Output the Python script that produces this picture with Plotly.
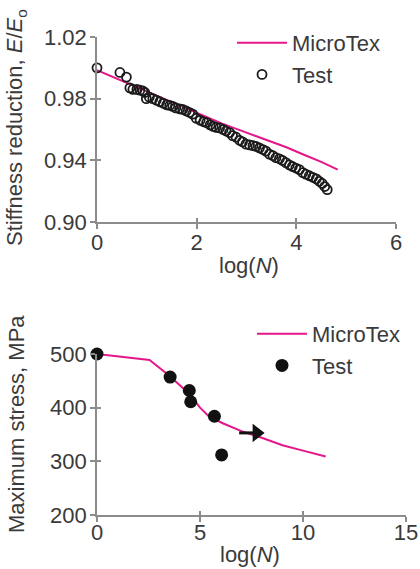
import plotly.graph_objects as go

# ---------------- data: top panel (stiffness) ----------------
mt_logN_top = [0, 0.5, 1.0, 1.5, 2.0, 2.5, 3.0, 3.4, 3.8, 4.2, 4.5, 4.83]
mt_stiff = [0.9985, 0.9915, 0.985, 0.9775, 0.971, 0.964, 0.958, 0.9535, 0.9485, 0.943, 0.939, 0.934]

test_logN_top = [0, 0.46, 0.59, 0.66, 0.72, 0.80, 0.86, 0.92, 0.96, 0.99, 1.05, 1.12, 1.19,
                 1.26, 1.33, 1.40, 1.46, 1.52, 1.58, 1.66, 1.72, 1.79, 1.86, 1.92, 1.99,
                 2.07, 2.14, 2.20, 2.27, 2.33, 2.39, 2.46, 2.53, 2.59, 2.66, 2.72, 2.79,
                 2.86, 2.92, 2.99, 3.06, 3.13, 3.19, 3.26, 3.33, 3.39, 3.46, 3.53, 3.59,
                 3.66, 3.72, 3.79, 3.86, 3.92, 3.99, 4.06, 4.13, 4.19, 4.26, 4.33, 4.40,
                 4.46, 4.52, 4.57, 4.62]
test_stiff = [1.000, 0.997, 0.994, 0.987, 0.986, 0.986, 0.9855, 0.985, 0.984, 0.980, 0.981,
              0.980, 0.979, 0.978, 0.977, 0.976, 0.9756, 0.975, 0.974, 0.9734, 0.973, 0.972,
              0.971, 0.970, 0.9673, 0.966, 0.965, 0.9645, 0.963, 0.962, 0.9614, 0.961, 0.960,
              0.959, 0.958, 0.956, 0.955, 0.953, 0.952, 0.9505, 0.950, 0.9495, 0.949, 0.948,
              0.947, 0.946, 0.944, 0.943, 0.9417, 0.941, 0.940, 0.9385, 0.937, 0.936, 0.935,
              0.934, 0.932, 0.931, 0.930, 0.929, 0.928, 0.9264, 0.925, 0.923, 0.921]

# ---------------- data: bottom panel (max stress) ----------------
mt_logN_bot = [0, 2.55, 3.5, 4.5, 5.0, 5.4, 6.1, 7.1, 8.0, 9.0, 10.0, 11.1]
mt_stress = [500, 489, 460, 425, 400, 385, 371, 355, 344, 330, 320, 309]

test_logN_bot = [0, 3.55, 4.48, 4.55, 5.7, 6.05]
test_stress = [500, 457, 432, 411, 384, 312]

runout_logN = [6.9, 7.75]
runout_stress = [353, 353]

top_yticks = [0.90, 0.94, 0.98, 1.02]
top_yticklabels = ["0.90", "0.94", "0.98", "1.02"]
top_xticks = [0, 2, 4, 6]
bot_yticks = [200, 300, 400, 500]
bot_xticks = [0, 5, 10, 15]

PINK = "#e5168a"
AXC = "#8c8c8c"
TXT = "#3a3a3a"
FONT = "Liberation Sans, Arial, sans-serif"
FS = 22

W, H = 420, 569
def px(x):
    return x / W
def py(y):
    return 1 - y / H

top_xd = [px(97), px(396)]
top_yd = [py(222), py(37)]
bot_xd = [px(97), px(406)]
bot_yd = [py(515), py(354)]

fig = go.Figure()

# top panel
fig.add_trace(go.Scatter(x=mt_logN_top, y=mt_stiff, mode="lines", name="MicroTex",
                         line=dict(color=PINK, width=2), xaxis="x", yaxis="y",
                         legend="legend", cliponaxis=False))
fig.add_trace(go.Scatter(x=test_logN_top, y=test_stiff, mode="markers", name="Test",
                         marker=dict(symbol="circle-open", size=9, color="#1a1a1a",
                                     line=dict(width=1.8, color="#1a1a1a")),
                         xaxis="x", yaxis="y", legend="legend", cliponaxis=False))
# invisible helper for inner tick axes (top)
fig.add_trace(go.Scatter(x=mt_logN_top, y=mt_stiff, mode="lines", opacity=0,
                         showlegend=False, hoverinfo="skip", xaxis="x3", yaxis="y3"))

# bottom panel
fig.add_trace(go.Scatter(x=mt_logN_bot, y=mt_stress, mode="lines", name="MicroTex",
                         line=dict(color=PINK, width=2), xaxis="x2", yaxis="y2",
                         legend="legend2", cliponaxis=False))
fig.add_trace(go.Scatter(x=test_logN_bot, y=test_stress, mode="markers", name="Test",
                         marker=dict(symbol="circle", size=13, color="#111111"),
                         xaxis="x2", yaxis="y2", legend="legend2", cliponaxis=False))
# run-out arrow: shaft + head
fig.add_trace(go.Scatter(x=runout_logN, y=runout_stress, mode="lines",
                         showlegend=False, line=dict(color="#111111", width=3),
                         xaxis="x2", yaxis="y2", cliponaxis=False))
fig.add_trace(go.Scatter(x=runout_logN[-1:], y=runout_stress[-1:], mode="markers",
                         showlegend=False,
                         marker=dict(symbol="triangle-right", size=16, color="#111111",
                                     opacity=1, line=dict(width=0)),
                         xaxis="x2", yaxis="y2", cliponaxis=False))
fig.add_trace(go.Scatter(x=mt_logN_bot, y=mt_stress, mode="lines", opacity=0,
                         showlegend=False, hoverinfo="skip", xaxis="x4", yaxis="y4"))

axis_common = dict(showgrid=False, zeroline=False, showline=True, linecolor=AXC,
                   linewidth=1.6, ticks="outside", ticklen=5, tickwidth=1.6,
                   tickcolor=AXC, automargin=False,
                   tickfont=dict(family=FONT, size=FS, color=TXT))
inner_common = dict(showgrid=False, zeroline=False, showline=False, ticks="inside",
                    ticklen=4, tickwidth=1.6, tickcolor=AXC, showticklabels=False,
                    automargin=False)

fig.update_layout(
    width=W, height=H, margin=dict(l=0, r=0, t=0, b=0, autoexpand=False),
    paper_bgcolor="white", plot_bgcolor="white",
    font=dict(family=FONT, size=FS, color=TXT),
    xaxis=dict(domain=top_xd, range=[0, 6], tickvals=top_xticks, anchor="y",
               ticklabelstandoff=-5, **axis_common),
    yaxis=dict(domain=top_yd, range=[0.90, 1.02], tickvals=top_yticks,
               ticktext=top_yticklabels, anchor="x", ticklabelstandoff=-1, **axis_common),
    xaxis3=dict(overlaying="x", anchor="y", range=[0, 6], tickvals=top_xticks, **inner_common),
    yaxis3=dict(overlaying="y", anchor="x", range=[0.90, 1.02], tickvals=top_yticks, **inner_common),
    xaxis2=dict(domain=bot_xd, range=[0, 15], tickvals=bot_xticks, anchor="y2",
                ticklabelstandoff=-8, **axis_common),
    yaxis2=dict(domain=bot_yd, range=[200, 500], tickvals=bot_yticks, anchor="x2",
                ticklabelstandoff=-1, **axis_common),
    xaxis4=dict(overlaying="x2", anchor="y2", range=[0, 15], tickvals=bot_xticks, **inner_common),
    yaxis4=dict(overlaying="y2", anchor="x2", range=[200, 500], tickvals=bot_yticks, **inner_common),
    legend=dict(x=px(232), y=py(22), xanchor="left", yanchor="top", bgcolor="rgba(0,0,0,0)",
                font=dict(family=FONT, size=FS, color=TXT), itemwidth=50, tracegroupgap=0),
    legend2=dict(x=px(252), y=py(313), xanchor="left", yanchor="top", bgcolor="rgba(0,0,0,0)",
                 font=dict(family=FONT, size=FS, color=TXT), itemwidth=50, tracegroupgap=0),
    showlegend=True,
)

annotations = [
    dict(text="Stiffness reduction, <i>E</i>/<i>E</i><sub>o</sub>", x=px(16), y=py(128),
         xref="paper", yref="paper", textangle=-90, showarrow=False,
         font=dict(family=FONT, size=FS, color=TXT), xanchor="center", yanchor="middle"),
    dict(text="log(<i>N</i>)", x=px(249), y=py(265), xref="paper", yref="paper",
         showarrow=False, font=dict(family=FONT, size=FS, color=TXT),
         xanchor="center", yanchor="middle"),
    dict(text="Maximum stress, MPa", x=px(16), y=py(424), xref="paper", yref="paper",
         textangle=-90, showarrow=False, font=dict(family=FONT, size=FS, color=TXT),
         xanchor="center", yanchor="middle"),
    dict(text="log(<i>N</i>)", x=px(250), y=py(554), xref="paper", yref="paper",
         showarrow=False, font=dict(family=FONT, size=FS, color=TXT),
         xanchor="center", yanchor="middle"),
]
fig.update_layout(annotations=annotations)

fig.write_html("out.html", config={"displayModeBar": False},
               post_script="document.body.style.margin='0';document.body.style.padding='0';"
                           "document.body.style.overflow='hidden';")
